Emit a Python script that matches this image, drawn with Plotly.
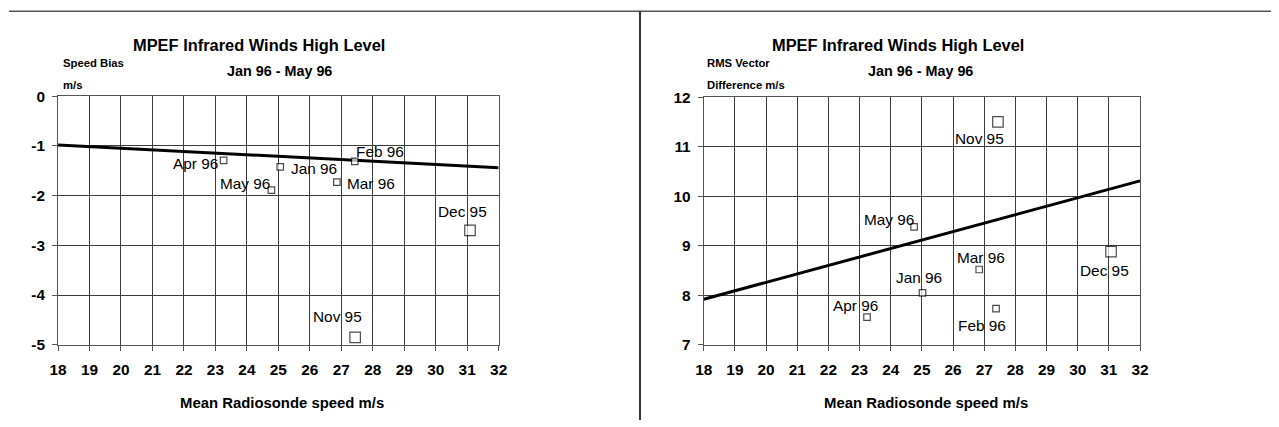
import plotly.graph_objects as go

# ---------------- data ----------------
months = ["Nov 95", "Dec 95", "Jan 96", "Feb 96", "Mar 96", "Apr 96", "May 96"]
radiosonde_speed_bias_chart = [27.44, 31.09, 25.06, 27.43, 26.86, 23.26, 24.78]
speed_bias = [-4.85, -2.70, -1.42, -1.31, -1.73, -1.29, -1.89]
radiosonde_speed_rms_chart = [27.44, 31.07, 25.02, 27.38, 26.84, 23.24, 24.75]
rms_vector_difference = [11.50, 8.88, 8.05, 7.73, 8.52, 7.56, 9.38]
trend_x = [18, 32]
trend_speed_bias = [-0.98, -1.44]
trend_rms = [7.92, 10.31]
x_tick_values = list(range(18, 33))
bias_tick_values = [0, -1, -2, -3, -4, -5]
bias_tick_labels = ["0", "-1", "-2", "-3", "-4", "-5"]
rms_tick_values = [7, 8, 9, 10, 11, 12]
rms_tick_labels = ["7", "8", "9", "10", "11", "12"]
chart_title = "MPEF Infrared Winds High Level"
chart_subtitle = "Jan 96 - May 96"
x_title = "Mean Radiosonde speed m/s"

# ---------------- layout helpers ----------------
# The captured page area is slightly larger than the window and keeps the
# default 8px body margin; positions below are given in window pixels.
CAP_W, CAP_H = 1296, 444
OUT_W, OUT_H = 1279, 427
SX, SY = OUT_W / CAP_W, OUT_H / CAP_H
MARGIN = 8
W, H = CAP_W - 2 * MARGIN, CAP_H - 2 * MARGIN
FS = 1 / ((SX + SY) / 2)  # font compensation


def px(x):  # window pixel -> paper x
    return (x / SX - MARGIN) / W


def py(y):  # window pixel -> paper y
    return 1 - (y / SY - MARGIN) / H


# label placement (pixel offsets of label centre from marker)
left_offsets = {
    "Nov 95": (-17, 20), "Dec 95": (-7, 18), "Jan 96": (33, -2), "Feb 96": (25, 9),
    "Mar 96": (34, -1), "Apr 96": (-28, -3), "May 96": (-26, 6),
}
right_offsets = {
    "Nov 95": (-18, -16), "Dec 95": (-6, -18), "Jan 96": (-3, 15), "Feb 96": (-14, -16),
    "Mar 96": (2, 12), "Apr 96": (-11, 11), "May 96": (-25, 7),
}

FONT = "Liberation Sans, Arial, sans-serif"
sizes = [10.5 if m.endswith("95") else 6.5 for m in months]

fig = go.Figure()

# trend lines
fig.add_trace(go.Scatter(x=trend_x, y=trend_speed_bias, mode="lines",
                         line=dict(color="black", width=3), xaxis="x", yaxis="y",
                         hoverinfo="skip", showlegend=False))
fig.add_trace(go.Scatter(x=trend_x, y=trend_rms, mode="lines",
                         line=dict(color="black", width=3), xaxis="x2", yaxis="y2",
                         hoverinfo="skip", showlegend=False))
# points
fig.add_trace(go.Scatter(x=radiosonde_speed_bias_chart, y=speed_bias, mode="markers",
                         marker=dict(symbol="square", size=sizes, color="white",
                                     line=dict(color="black", width=1.2)),
                         text=months, xaxis="x", yaxis="y", showlegend=False))
fig.add_trace(go.Scatter(x=radiosonde_speed_rms_chart, y=rms_vector_difference, mode="markers",
                         marker=dict(symbol="square", size=sizes, color="white",
                                     line=dict(color="black", width=1.2)),
                         text=months, xaxis="x2", yaxis="y2", showlegend=False))

annotations = []
for m, xv, yv in zip(months, radiosonde_speed_bias_chart, speed_bias):
    dx, dy = left_offsets[m]
    annotations.append(dict(x=xv, y=yv, xref="x", yref="y", text=m, showarrow=False,
                            xanchor="center", yanchor="middle", xshift=dx / SX, yshift=dy / SY,
                            font=dict(family=FONT, size=15 * FS, color="black")))
for m, xv, yv in zip(months, radiosonde_speed_rms_chart, rms_vector_difference):
    dx, dy = right_offsets[m]
    annotations.append(dict(x=xv, y=yv, xref="x2", yref="y2", text=m, showarrow=False,
                            xanchor="center", yanchor="middle", xshift=dx / SX, yshift=dy / SY,
                            font=dict(family=FONT, size=15 * FS, color="black")))


def paper_text(text, x, y, size, xanchor="center"):
    return dict(x=px(x), y=py(y), xref="paper", yref="paper", text=text, showarrow=False,
                xanchor=xanchor, yanchor="middle",
                font=dict(family=FONT, size=size * FS, color="black"))


annotations += [
    paper_text("<b>" + chart_title + "</b>", 258, 44, 16),
    paper_text("<b>" + chart_subtitle + "</b>", 279, 70, 14),
    paper_text("<b>Speed Bias</b>", 60, 62, 11, "left"),
    paper_text("<b>m/s</b>", 60, 84, 11, "left"),
    paper_text("<b>" + x_title + "</b>", 281, 402, 14.5),
    paper_text("<b>" + chart_title + "</b>", 898, 44, 16),
    paper_text("<b>" + chart_subtitle + "</b>", 920, 70, 14),
    paper_text("<b>RMS Vector</b>", 705, 62, 11, "left"),
    paper_text("<b>Difference m/s</b>", 705, 84, 11, "left"),
    paper_text("<b>" + x_title + "</b>", 926, 402, 14.5),
]

shapes = [
    dict(type="line", xref="paper", yref="paper", x0=0, x1=1, y0=py(10), y1=py(10),
         line=dict(color="#555", width=1.5)),
    dict(type="line", xref="paper", yref="paper", x0=px(639.5), x1=px(639.5), y0=py(10), y1=0,
         line=dict(color="#333", width=2)),
]


def xaxis(domain, anchor):
    return dict(domain=domain, anchor=anchor, range=[18, 32], tickvals=x_tick_values,
                ticktext=[str(v) for v in x_tick_values],
                showgrid=True, gridcolor="#3c3c3c", gridwidth=1,
                showline=True, mirror=True, linecolor="#555", linewidth=1,
                ticks="outside", ticklen=5, tickcolor="#555", ticklabelstandoff=6,
                tickfont=dict(family=FONT, size=15 * FS, color="black", weight="bold"),
                zeroline=False, fixedrange=True)


def yaxis(domain, anchor, rng, vals, labels):
    return dict(domain=domain, anchor=anchor, range=rng, tickvals=vals, ticktext=labels,
                showgrid=True, gridcolor="#3c3c3c", gridwidth=1,
                showline=True, mirror=True, linecolor="#555", linewidth=1,
                ticks="outside", ticklen=5, tickcolor="#555", ticklabelstandoff=4,
                tickfont=dict(family=FONT, size=15 * FS, color="black", weight="bold"),
                zeroline=False, fixedrange=True)


fig.update_layout(
    width=W, height=H, margin=dict(l=0, r=0, t=0, b=0),
    paper_bgcolor="white", plot_bgcolor="white",
    xaxis=xaxis([px(57), px(498)], "y"),
    yaxis=yaxis([py(344), py(95)], "x", [-5, 0], bias_tick_values, bias_tick_labels),
    xaxis2=xaxis([px(703.3), px(1140)], "y2"),
    yaxis2=yaxis([py(344), py(96)], "x2", [7, 12], rms_tick_values, rms_tick_labels),
    annotations=annotations, shapes=shapes, showlegend=False,
)

fig.write_html("out.html")
